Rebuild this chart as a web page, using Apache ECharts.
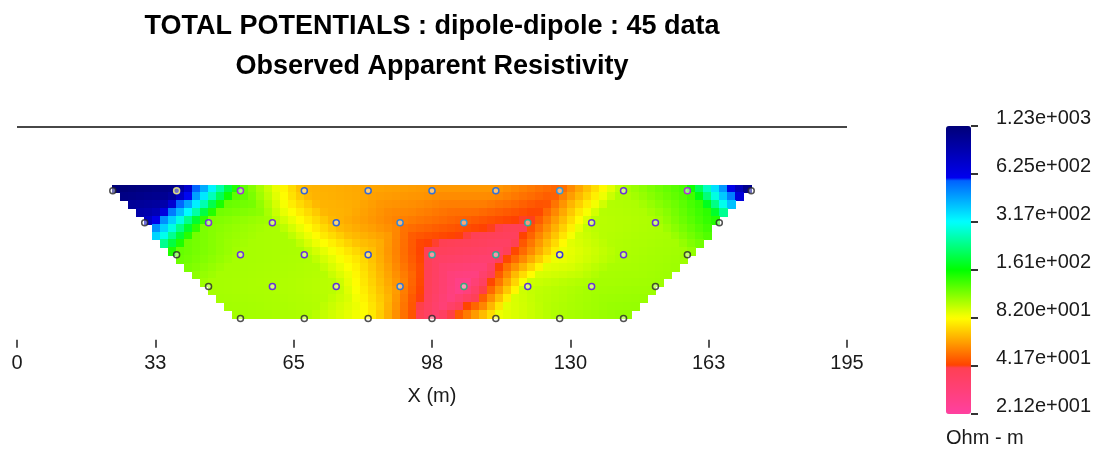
<!DOCTYPE html>
<html>
<head>
<meta charset="utf-8">
<title>Observed Apparent Resistivity</title>
<script src="https://cdn.jsdelivr.net/npm/echarts@6/dist/echarts.min.js"></script>
<style>
  html, body { margin: 0; padding: 0; background: #ffffff; }
  #chart { width: 1099px; height: 450px; }
</style>
</head>
<body>
<div id="chart"></div>
<script>
// Apparent resistivity (ohm-m) for each dipole-dipole level, left to right
const RHO_LEVEL_1 = [1250, 1100, 130, 63, 60, 57, 57, 47, 102, 135, 1230];
const RHO_LEVEL_2 = [800, 115, 103, 63, 52, 46, 40, 98, 102, 150];
const RHO_LEVEL_3 = [125, 104, 102, 68, 38, 33, 84, 102, 106];
const RHO_LEVEL_4 = [104, 102, 98, 55, 25, 95, 104, 106];
const RHO_LEVEL_5 = [105, 102, 80, 34, 85, 102, 110];

// Survey geometry (m): pseudo-depth of each level, first station of each level, station step
const LEVEL_DEPTH = [15, 22.5, 30, 37.5, 45];
const LEVEL_FIRST_X = [22.5, 30, 37.5, 45, 52.5];
const STATION_STEP = 15;

const X_TICK_LABELS = ['0', '33', '65', '98', '130', '163', '195'];
const LEGEND_TICK_LABELS = ['2.12e+001', '4.17e+001', '8.20e+001', '1.61e+002', '3.17e+002', '6.25e+002', '1.23e+003'];
const RHO_MIN = 21.2;
const RHO_MAX = 1230;

const LEVELS = [RHO_LEVEL_1, RHO_LEVEL_2, RHO_LEVEL_3, RHO_LEVEL_4, RHO_LEVEL_5];
const LOG_LEVELS = LEVELS.map(row => row.map(v => Math.log10(v)));
const LOG_MIN = Math.log10(RHO_MIN);
const LOG_MAX = Math.log10(RHO_MAX);

const FONT = '"Liberation Sans", Arial, sans-serif';

// Resistivity colour scale (position 0..1 along the log range)
const CMAP = [
  [0.000, [255, 64, 160]],
  [0.160, [255, 64, 84]],
  [0.167, [255, 64, 0]],
  [0.333, [255, 255, 0]],
  [0.500, [0, 255, 0]],
  [0.667, [0, 255, 255]],
  [0.812, [0, 96, 255]],
  [0.818, [0, 0, 240]],
  [1.000, [0, 0, 120]]
];
function rgbAt(t) {
  t = Math.max(0, Math.min(1, t));
  for (let i = 1; i < CMAP.length; i++) {
    if (t <= CMAP[i][0]) {
      const [t0, c0] = CMAP[i - 1], [t1, c1] = CMAP[i];
      const f = (t - t0) / (t1 - t0);
      return c0.map((c, k) => Math.round(c + (c1[k] - c) * f));
    }
  }
  return CMAP[CMAP.length - 1][1];
}
const hex = c => '#' + c.map(v => v.toString(16).padStart(2, '0')).join('');
const SCALE_COLORS = [];
for (let i = 0; i <= 300; i++) SCALE_COLORS.push(hex(rgbAt(i / 300)));

// Shade the section by linear interpolation over the triangles of the measurement lattice
function logRhoAt(x, d) {
  const L = LOG_LEVELS.length;
  const dStep = LEVEL_DEPTH[1] - LEVEL_DEPTH[0];
  const n = Math.max(0, Math.min(L - 1, (d - LEVEL_DEPTH[0]) / dStep));
  const firstX = LEVEL_FIRST_X[0] + (LEVEL_FIRST_X[1] - LEVEL_FIRST_X[0]) * n;
  const k = (x - firstX) / STATION_STEP;
  const n0 = Math.min(Math.floor(n), L - 2);
  const fn = n - n0;
  const k0 = Math.floor(k);
  const fk = k - k0;
  const g = (nn, kk) => {
    const row = LOG_LEVELS[nn];
    return row[Math.max(0, Math.min(row.length - 1, kk))];
  };
  const A = g(n0, k0), B = g(n0, k0 + 1), C = g(n0 + 1, k0), D = g(n0 + 1, k0 + 1);
  if (fk + fn <= 1) return A + fk * (B - A) + fn * (C - A);
  return D + (1 - fk) * (C - D) + (1 - fn) * (B - D);
}

// Cell grid of the pseudosection
const CELL_W = 1.875;
const CELL_COLS = 80;
const CELL_ROWS = 17;
const SECTION_TOP = 13.65;
const SECTION_BOTTOM = 44.9;
const CELL_H = (SECTION_BOTTOM - SECTION_TOP) / CELL_ROWS;
const xStart = LEVEL_FIRST_X[0];
const xEnd = xStart + STATION_STEP * (RHO_LEVEL_1.length - 1);
const cells = [];
for (let i = 0; i < CELL_ROWS; i++) {
  const dc = SECTION_TOP + (i + 0.5) * CELL_H;
  const slope = Math.max(0, dc - LEVEL_DEPTH[0]);
  const xl = xStart + slope, xr = xEnd - slope;
  for (let j = 0; j < CELL_COLS; j++) {
    const cx = xStart + (j + 0.5) * CELL_W;
    if (cx < xl - 0.3 || cx > xr + 0.3) continue;
    cells.push([cx, dc, logRhoAt(cx, dc)]);
  }
}

// Measurement points; outline drawn in the complementary colour of the shading
const points = [];
LEVELS.forEach((row, n) => {
  row.forEach((v, k) => {
    const edge = k === 0 || k === row.length - 1 || n === LEVELS.length - 1;
    const c = rgbAt((Math.log10(v) - LOG_MIN) / (LOG_MAX - LOG_MIN));
    points.push({
      value: [LEVEL_FIRST_X[n] + STATION_STEP * k, LEVEL_DEPTH[n]],
      itemStyle: { borderColor: edge ? '#262626' : hex(c.map(x => 255 - x)) }
    });
  });
});

const chart = echarts.init(document.getElementById('chart'), null, { renderer: 'canvas' });
chart.setOption({
  animation: false,
  backgroundColor: '#ffffff',
  textStyle: { fontFamily: FONT },
  graphic: [
    { type: 'text', x: 432, y: 27, silent: true,
      style: { text: 'TOTAL POTENTIALS : dipole-dipole : 45 data', textAlign: 'center', textVerticalAlign: 'middle',
               font: 'bold 27px ' + FONT, fill: '#000' } },
    { type: 'text', x: 432, y: 67, silent: true,
      style: { text: 'Observed Apparent Resistivity', textAlign: 'center', textVerticalAlign: 'middle',
               font: 'bold 27px ' + FONT, fill: '#000' } },
    { type: 'text', x: 946, y: 438, silent: true,
      style: { text: 'Ohm - m', textAlign: 'left', textVerticalAlign: 'middle',
               font: '20px ' + FONT, fill: '#1a1a1a' } }
  ],
  grid: [
    { left: 17, top: 127, width: 830, height: 212.8 },
    { left: 946, top: 126, width: 25, height: 288 }
  ],
  xAxis: [
    {
      gridIndex: 0, type: 'value', min: 0, max: 195, interval: 32.5,
      axisLine: { show: false, onZero: false },
      axisTick: { show: true, length: 8, lineStyle: { color: '#222', width: 1.5 } },
      splitLine: { show: false },
      axisLabel: {
        margin: 14, fontSize: 20, color: '#1a1a1a', fontFamily: FONT,
        formatter: v => X_TICK_LABELS[Math.round(v / 32.5)]
      },
      name: 'X (m)', nameLocation: 'middle', nameGap: 47,
      nameTextStyle: { fontSize: 20, color: '#1a1a1a', fontFamily: FONT }
    },
    { gridIndex: 1, type: 'value', show: false, min: 0, max: 1 }
  ],
  yAxis: [
    { gridIndex: 0, type: 'value', min: 0, max: 50, inverse: true, show: false },
    {
      gridIndex: 1, type: 'value', min: 0, max: 6, interval: 1,
      position: 'right',
      axisLine: { show: false, onZero: false },
      axisTick: { show: true, length: 7, lineStyle: { color: '#333', width: 2 } },
      splitLine: { show: false },
      axisLabel: {
        margin: 25, fontSize: 20, lineHeight: 16, color: '#1a1a1a', fontFamily: FONT, verticalAlign: 'bottom',
        formatter: v => LEGEND_TICK_LABELS[Math.round(v)]
      }
    }
  ],
  visualMap: {
    type: 'continuous', seriesIndex: 0, dimension: 2,
    min: LOG_MIN, max: LOG_MAX, calculable: false, hoverLink: false,
    left: 946, top: 126, itemWidth: 25, itemHeight: 288, padding: 0,
    inRange: { color: SCALE_COLORS }
  },
  series: [
    {
      type: 'custom', xAxisIndex: 0, yAxisIndex: 0, silent: true,
      data: cells,
      encode: { x: 0, y: 1 },
      renderItem: (params, api) => {
        const x = api.value(0), d = api.value(1);
        const p0 = api.coord([x - CELL_W / 2, d - CELL_H / 2]);
        const p1 = api.coord([x + CELL_W / 2, d + CELL_H / 2]);
        const x0 = Math.floor(p0[0]), y0 = Math.floor(p0[1]);
        return {
          type: 'rect',
          shape: { x: x0, y: y0, width: Math.ceil(p1[0]) - x0, height: Math.ceil(p1[1]) - y0 },
          style: { fill: api.visual('color') }
        };
      }
    },
    {
      type: 'scatter', xAxisIndex: 0, yAxisIndex: 0, silent: true, z: 5,
      symbol: 'circle', symbolSize: 6,
      itemStyle: { color: 'rgba(255,255,255,0.55)', borderWidth: 1.5 },
      data: points,
      markLine: {
        silent: true, symbol: 'none', animation: false,
        label: { show: false },
        lineStyle: { color: '#474747', width: 2, type: 'solid' },
        data: [{ yAxis: 0 }]
      }
    }
  ]
});
</script>
</body>
</html>
